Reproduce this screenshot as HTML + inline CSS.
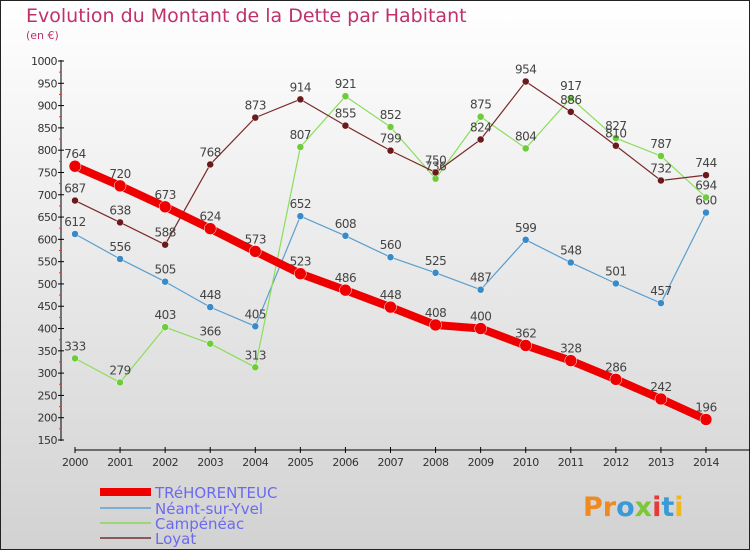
<!DOCTYPE html>
<html><head><meta charset="utf-8"><style>
body{margin:0;}
#wrap{width:750px;height:550px;position:relative;overflow:hidden;}
text{font-family:"DejaVu Sans","Liberation Sans",sans-serif;}
</style></head><body>
<div id="wrap">
<svg id="c" width="750" height="550" xmlns="http://www.w3.org/2000/svg">
<defs><linearGradient id="bg" x1="0" y1="0" x2="0" y2="1"><stop offset="0" stop-color="#ffffff"/><stop offset="1" stop-color="#d2d2d2"/></linearGradient></defs>
<rect x="0.5" y="0.5" width="749" height="549" fill="url(#bg)" stroke="#222"/>
<text x="26" y="22" font-size="19" fill="#c0306a" font-family="Liberation Sans, sans-serif">Evolution du Montant de la Dette par Habitant</text>
<text x="26" y="39" font-size="11" fill="#c0306a">(en €)</text>
<g id="axes"></g><g id="series"></g>
<g>
<rect x="100" y="488" width="51" height="8" fill="#ee0000"/>
<text x="155" y="498" font-size="15" fill="#6a6af0">TRéHORENTEUC</text>
<rect x="100" y="507" width="51" height="2" fill="#7aaed2"/>
<text x="155" y="514" font-size="15" fill="#6a6af0">Néant-sur-Yvel</text>
<rect x="100" y="522" width="51" height="2" fill="#9cd67a"/>
<text x="155" y="529" font-size="15" fill="#6a6af0">Campénéac</text>
<rect x="100" y="537" width="51" height="2" fill="#8a5a5a"/>
<text x="155" y="544" font-size="15" fill="#6a6af0">Loyat</text>
</g>
<text x="583" y="516" font-size="27" font-weight="bold"><tspan fill="#f08a1e">Pr</tspan><tspan fill="#3a9ad8">o</tspan><tspan fill="#7cc63a">x</tspan><tspan fill="#e43a3a">i</tspan><tspan fill="#3a9ad8">t</tspan><tspan fill="#f0b81e">i</tspan></text>
</svg></div>
<script>
const years=[2000,2001,2002,2003,2004,2005,2006,2007,2008,2009,2010,2011,2012,2013,2014];
const yTicks=[150,200,250,300,350,400,450,500,550,600,650,700,750,800,850,900,950,1000];
const treh=[764,720,673,624,573,523,486,448,408,400,362,328,286,242,196];
const neant=[612,556,505,448,405,652,608,560,525,487,599,548,501,457,660];
const camp=[333,279,403,366,313,807,921,852,736,875,804,917,827,787,694];
const loyat=[687,638,588,768,873,914,855,799,750,824,954,886,810,732,744];
const NS='http://www.w3.org/2000/svg';
function X(i){return 75+i*(706-75)/14;}
function Y(v){return 440-(v-150)*(440-61)/850;}
function mk(t,a,p){const e=document.createElementNS(NS,t);for(const k in a)e.setAttribute(k,a[k]);p.appendChild(e);return e;}
const ax=document.getElementById('axes');
const yl=mk('line',{x1:61,y1:60,x2:61,y2:441,stroke:'#000','stroke-width':1},ax);


yTicks.forEach(v=>{
 mk('line',{x1:58,y1:Y(v),x2:64,y2:Y(v),stroke:'#000'},ax);
 if(v<1000) mk('line',{x1:59,y1:Y(v+25),x2:61,y2:Y(v+25),stroke:'#e33'},ax);
 const t=mk('text',{x:57,y:Y(v)+4,'font-size':11,'text-anchor':'end',fill:'#333','letter-spacing':'-0.5'},ax);t.textContent=v;
 
 
});
const xl=mk('line',{x1:75,y1:450,x2:750,y2:450,stroke:'#000'},ax);


years.forEach((y,i)=>{
 mk('line',{x1:X(i),y1:447,x2:X(i),y2:453,stroke:'#000'},ax);
 const t=mk('text',{x:X(i),y:466,'font-size':11,'text-anchor':'middle',fill:'#333','letter-spacing':'-0.5'},ax);t.textContent=y;
 
 
});
const sg=document.getElementById('series');
function draw(data,color,w,r,name,fill){
 const g=mk('g',{},sg);
 
 
 const p=mk('polyline',{points:data.map((v,i)=>X(i)+','+Y(v)).join(' '),fill:'none',stroke:color,'stroke-width':w,'stroke-linejoin':'round'},g);
 
 
 data.forEach((v,i)=>{
  const c=mk('circle',{cx:X(i),cy:Y(v),r:r,fill:fill,stroke:'#fff','stroke-width':0.5},g);
  
  
  const t=mk('text',{x:X(i),y:Y(v)-8,'font-size':12,'text-anchor':'middle',fill:'#444','letter-spacing':'-0.5'},g);t.textContent=v;
  
  
 });
}
draw(neant,'#5a9ed0',1.2,3.5,'neant','#3a8ac8');
draw(camp,'#8ade5a',1.2,3.5,'campeneac','#6ccc3a');
draw(loyat,'#7a2a2a',1.2,3.5,'loyat','#6a1a1a');
draw(treh,'#ee0000',8,6,'trehorenteuc','#ee0000');
</script>
</body></html>
